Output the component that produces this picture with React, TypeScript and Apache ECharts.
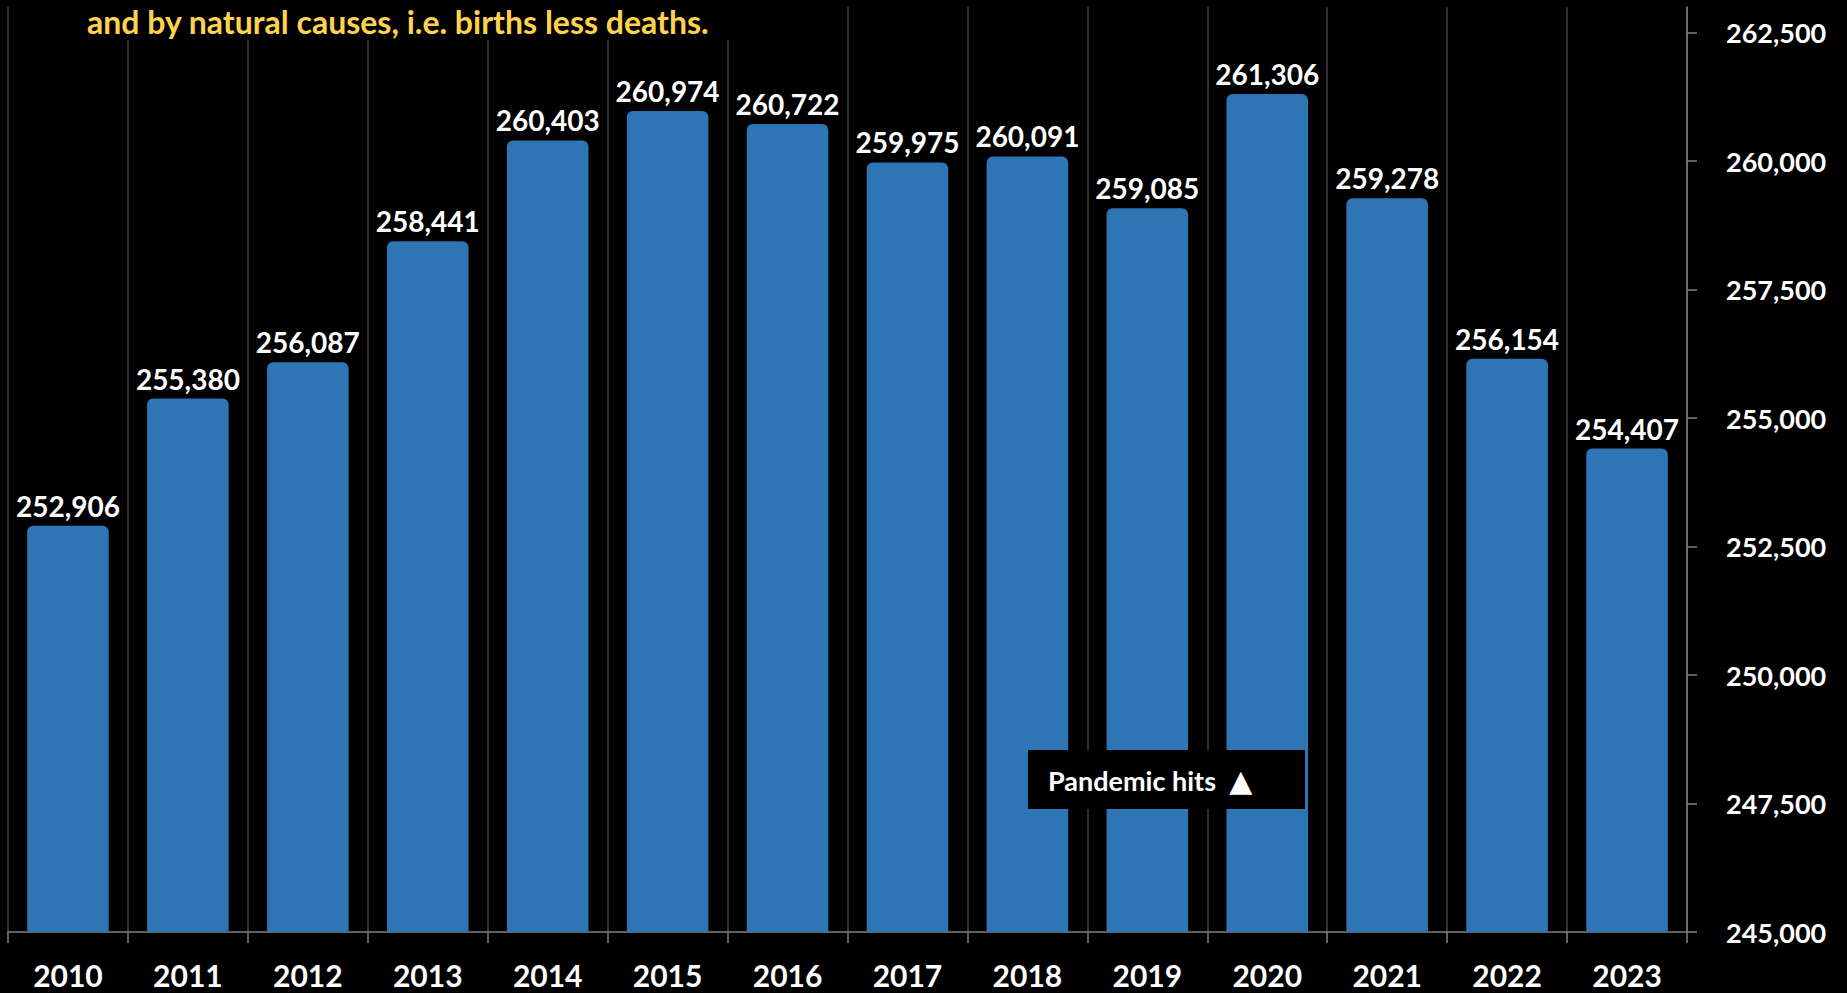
import React, { useEffect, useRef } from "react";
import * as echarts from "echarts";

const years = ["2010", "2011", "2012", "2013", "2014", "2015", "2016", "2017", "2018", "2019", "2020", "2021", "2022", "2023"];
const population = [252906, 255380, 256087, 258441, 260403, 260974, 260722, 259975, 260091, 259085, 261306, 259278, 256154, 254407];
const yTicks = [245000, 247500, 250000, 252500, 255000, 257500, 260000, 262500];
const titleLine = "and by natural causes, i.e. births less deaths.";
const annotationText = "Pandemic hits";
const annotationMark = "\u25B2";

const FONT = "Lato, 'Noto Sans', sans-serif";
const fmt = (v: number) => v.toLocaleString("en-US");

export default function App() {
  const ref = useRef<HTMLDivElement>(null);
  useEffect(() => {
    if (!ref.current) return;
    const chart = echarts.init(ref.current, null, { renderer: "svg" });
    chart.setOption({
      animation: false,
      backgroundColor: "#000000",
      textStyle: { fontFamily: FONT },
      grid: { left: 8, right: 160, top: 7, bottom: 61, containLabel: false },
      xAxis: {
        type: "category",
        data: years,
        boundaryGap: true,
        axisLine: { show: true, lineStyle: { color: "#808080", width: 1.5 } },
        axisTick: { show: true, length: 11, lineStyle: { color: "#808080", width: 1.5 } },
        axisLabel: { color: "#ffffff", fontFamily: FONT, fontWeight: "bold", fontSize: 30, margin: 28 },
        splitLine: { show: true, lineStyle: { color: "#404040", width: 1.5 } },
      },
      yAxis: {
        type: "value",
        position: "right",
        min: 245000,
        max: 263000,
        interval: 2500,
        axisLine: { show: true, lineStyle: { color: "#808080", width: 1.5 } },
        axisTick: { show: true, length: 10, customValues: yTicks, lineStyle: { color: "#808080", width: 1.5 } },
        axisLabel: {
          color: "#ffffff",
          fontFamily: FONT,
          fontWeight: "bold",
          fontSize: 27,
          margin: 39,
          customValues: yTicks,
          formatter: (v: number) => fmt(v),
        },
        splitLine: { show: false },
      },
      series: [
        {
          type: "bar",
          data: population,
          barCategoryGap: "32%",
          itemStyle: { color: "#2E75B6", borderRadius: [6, 6, 0, 0] },
          label: {
            show: true,
            position: "top",
            distance: 6,
            color: "#ffffff",
            fontFamily: FONT,
            fontWeight: "bold",
            fontSize: 28,
            formatter: (p: any) => fmt(p.value),
          },
        },
      ],
      graphic: [
        {
          type: "rect",
          z: 100,
          shape: { x: 12, y: 0, width: 830, height: 40 },
          style: { fill: "#000000" },
        },
        {
          type: "text",
          z: 101,
          x: 87,
          y: 5,
          style: {
            text: titleLine,
            fill: "#FFD34E",
            font: `bold 32px ${FONT}`,
            verticalAlign: "top",
            align: "left",
          },
        },
        {
          type: "rect",
          z: 100,
          shape: { x: 1028, y: 750, width: 277, height: 59 },
          style: { fill: "#000000" },
        },
        {
          type: "text",
          z: 101,
          x: 1048,
          y: 780,
          style: {
            text: `{a|${annotationText}\u00A0\u00A0}{t|${annotationMark}}`,
            rich: {
              a: { fill: "#ffffff", fontFamily: FONT, fontWeight: "bold", fontSize: 27 },
              t: { fill: "#ffffff", fontFamily: "'DejaVu Sans', sans-serif", fontSize: 30 },
            },
            verticalAlign: "middle",
            align: "left",
          },
        },
      ],
    });
    return () => chart.dispose();
  }, []);
  return (
    <div
      ref={ref}
      style={{ position: "fixed", left: 0, top: 0, width: 1847, height: 993, background: "#000" }}
    />
  );
}
